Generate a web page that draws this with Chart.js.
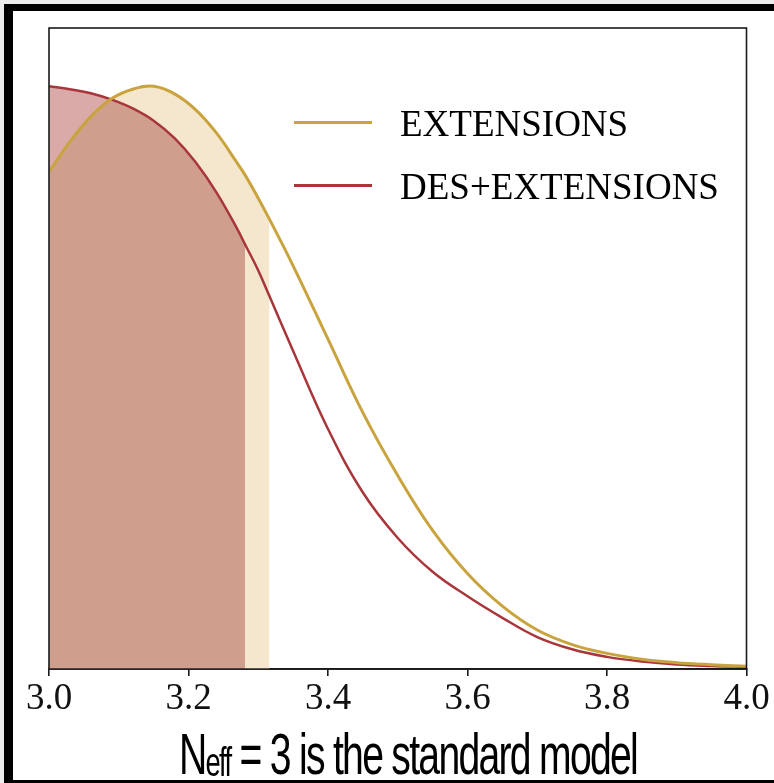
<!DOCTYPE html>
<html>
<head>
<meta charset="utf-8">
<script src="https://cdn.jsdelivr.net/npm/chart.js@4.4.1/dist/chart.umd.min.js"></script>
<style>
  html, body { margin: 0; padding: 0; }
  body { width: 774px; height: 783px; background: #ececec; position: relative; overflow: hidden; }
  #frame { position: absolute; left: 4px; top: 4px; width: 770px; height: 769px;
           background: #fff; border-top: 7px solid #000; border-left: 9px solid #000; border-bottom: 3px solid #000; }
  #c { position: absolute; left: 0; top: 0; }
  .leg-line { position: absolute; left: 294px; width: 78px; height: 3px; }
  .leg-text { position: absolute; left: 400px; font-family: "Liberation Serif", "Times New Roman", serif;
              font-size: 37px; line-height: 37px; color: #000; white-space: nowrap; }
  #xtitle { position: absolute; left: 179px; top: 726px; font-family: "Liberation Sans", Arial, sans-serif;
            font-size: 57px; line-height: 57px; color: #000; white-space: nowrap; transform-origin: 0 0;
            letter-spacing: -2.5px; }
  #xtitle sub { font-size: 0.7em; line-height: 0; vertical-align: -0.06em; }
</style>
</head>
<body>
<div id="frame"></div>
<canvas id="c" width="774" height="783"></canvas>
<div id="legend"></div>
<div id="xtitle">N<sub>eff</sub> = 3 is the standard model</div>
<script>
// ---- data ----
const xGrid = [3.00, 3.03, 3.06, 3.09, 3.12, 3.15, 3.18, 3.21, 3.24, 3.27, 3.281, 3.30, 3.316,
               3.35, 3.40, 3.45, 3.50, 3.55, 3.60, 3.65, 3.70, 3.75, 3.80, 3.85, 3.90, 3.95, 4.00];
const extensions = [0.853, 0.905, 0.948, 0.979, 0.995, 1.000, 0.987, 0.960, 0.920, 0.868, 0.848, 0.808, 0.772,
                    0.692, 0.566, 0.440, 0.332, 0.238, 0.164, 0.108, 0.067, 0.042, 0.027, 0.017, 0.011, 0.0075, 0.005];
const desExtensions = [1.000, 0.995, 0.988, 0.977, 0.962, 0.941, 0.911, 0.870, 0.818, 0.755, 0.729, 0.684, 0.640,
                       0.546, 0.412, 0.303, 0.225, 0.167, 0.125, 0.088, 0.055, 0.034, 0.021, 0.013, 0.008, 0.0055, 0.004];
const extLimit = 3.316;   // shaded interval end, EXTENSIONS
const desLimit = 3.281;   // shaded interval end, DES+EXTENSIONS
const seriesNames = ['EXTENSIONS', 'DES+EXTENSIONS'];
const tickValues = [3.0, 3.2, 3.4, 3.6, 3.8, 4.0];
const tickLabels = ['3.0', '3.2', '3.4', '3.6', '3.8', '4.0'];

const colExt = '#c9a43e', colDes = '#a8363b';
const colBeige = '#f5e7cd', colPink = '#d9aaa8', colOverlap = '#cf9e8c';

const pts = (ys, lim) => xGrid.map((x, i) => ({x, y: ys[i]})).filter(p => lim === undefined || p.x <= lim + 1e-9);

// legend (HTML)
const legend = document.getElementById('legend');
[[seriesNames[0], colExt, 122], [seriesNames[1], colDes, 185]].forEach(([name, col, y]) => {
  const l = document.createElement('div'); l.className = 'leg-line';
  l.style.top = (y - 1.5) + 'px'; l.style.background = col; legend.appendChild(l);
  const t = document.createElement('div'); t.className = 'leg-text';
  t.style.top = (y - 17) + 'px'; t.textContent = name; legend.appendChild(t);
});

// x title squeeze to reference width
const xt = document.getElementById('xtitle');
const w = xt.getBoundingClientRect().width;
xt.style.transform = 'scaleX(' + (458 / w) + ')';

const boxPlugin = {
  id: 'box',
  afterDraw(chart) {
    const {ctx, chartArea: a} = chart;
    ctx.save(); ctx.strokeStyle = '#1a1a1a'; ctx.lineWidth = 1.6;
    ctx.strokeRect(a.left, a.top, a.right - a.left, a.bottom - a.top);
    ctx.restore();
  }
};

new Chart(document.getElementById('c'), {
  type: 'line',
  data: {
    datasets: [
      { label: seriesNames[0], data: pts(extensions), borderColor: colExt, borderWidth: 3, fill: false, order: 0 },
      { label: seriesNames[1], data: pts(desExtensions), borderColor: colDes, borderWidth: 2.5, fill: false, order: 1 },
      { label: 'ext-under-des', data: pts(extensions, desLimit), borderWidth: 0, borderColor: 'rgba(0,0,0,0)',
        fill: { target: 3, above: 'rgba(0,0,0,0)', below: colPink }, order: 2 },
      { label: 'des-fill', data: pts(desExtensions, desLimit), borderWidth: 0, borderColor: 'rgba(0,0,0,0)',
        backgroundColor: colOverlap, fill: 'origin', order: 3 },
      { label: 'ext-fill', data: pts(extensions, extLimit), borderWidth: 0, borderColor: 'rgba(0,0,0,0)',
        backgroundColor: colBeige, fill: 'origin', order: 4 }
    ]
  },
  options: {
    responsive: false,
    animation: false,
    devicePixelRatio: 1,
    layout: { padding: { left: 49, right: 27.5, top: 28, bottom: 60.5 } },
    elements: { point: { radius: 0, hoverRadius: 0 }, line: { tension: 0.4 } },
    plugins: { legend: { display: false }, tooltip: { enabled: false } },
    scales: {
      x: {
        type: 'linear', min: 3, max: 4,
        afterBuildTicks: (s) => { s.ticks = tickValues.map(v => ({value: v})); },
        ticks: { callback: (v, i) => tickLabels[i], color: '#111', padding: 1, maxRotation: 0,
                 font: { family: '"Liberation Serif", "Times New Roman", serif', size: 37 } },
        grid: { display: true, drawOnChartArea: false, drawTicks: true, tickLength: 7, color: '#1a1a1a', lineWidth: 1.6 },
        border: { display: true, color: '#1a1a1a', width: 1.6 }
      },
      y: { display: false, min: 0, max: 1.1 }
    }
  },
  plugins: [boxPlugin]
});
</script>
</body>
</html>
